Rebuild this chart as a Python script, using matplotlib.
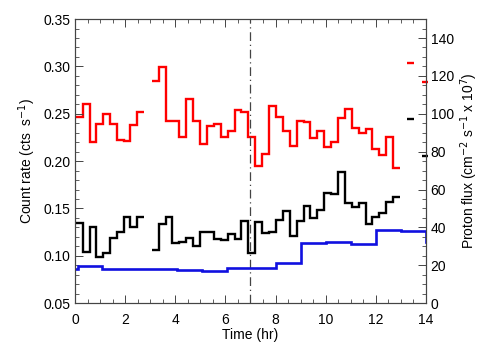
import numpy as np
import matplotlib
matplotlib.use('Agg')
import matplotlib.pyplot as plt
from matplotlib.ticker import MultipleLocator

plt.rcParams['font.family'] = ['Liberation Sans', 'DejaVu Sans']

# --- data ---
# two count-rate curves, each split in two segments with a gap near 3 hr
seg1_start, seg1_end = 0.04, 2.75
seg2_start, seg2_end = 3.06, 12.97

red_seg1 = [0.2468, 0.2602, 0.2204, 0.2388, 0.2497, 0.2388, 0.2222, 0.2215, 0.2377, 0.2521]
red_seg2 = [0.2848, 0.2990, 0.2426, 0.2426, 0.2257, 0.2655, 0.2426, 0.2180, 0.2373, 0.2388,
            0.2257, 0.2317, 0.2539, 0.2521, 0.2257, 0.1950, 0.2077, 0.2581, 0.2468, 0.2320,
            0.2162, 0.2426, 0.2409, 0.2240, 0.2320, 0.2151, 0.2204, 0.2451, 0.2549, 0.2352,
            0.2299, 0.2335, 0.2127, 0.2063, 0.2257, 0.1923]

black_seg1 = [0.1348, 0.1036, 0.1300, 0.0983, 0.1031, 0.1183, 0.1247, 0.1412, 0.1306, 0.1412]
black_seg2 = [0.1060, 0.1335, 0.1405, 0.1131, 0.1144, 0.1184, 0.1102, 0.1253, 0.1253, 0.1176,
              0.1166, 0.1226, 0.1179, 0.1366, 0.1025, 0.1359, 0.1240, 0.1255, 0.1377, 0.1477,
              0.1211, 0.1366, 0.1525, 0.1401, 0.1482, 0.1659, 0.1651, 0.1881, 0.1553, 0.1511,
              0.1560, 0.1331, 0.1412, 0.1448, 0.1564, 0.1623]

# proton flux, hourly bins
flux_start, flux_width = -0.892, 0.992
flux = [17.8, 19.4, 18.0, 18.0, 18.1, 17.3, 16.9, 18.3, 18.6, 21.0,
        31.9, 32.4, 31.2, 38.6, 38.0, 32.4]

# the short marks at the right edge: (t_start, t_end, rate)
red_marks = [(13.26, 13.54, 0.3032), (13.84, 14.10, 0.2831)]
black_marks = [(13.26, 13.54, 0.2444), (13.84, 14.10, 0.2056)]

t_event = 7.0

# --- plot ---
fig = plt.figure(figsize=(5.04, 3.6), dpi=100)
ax = fig.add_axes([0.149, 0.158, 0.696, 0.789])
ax2 = ax.twinx()

lw = 1.7
e1 = np.linspace(seg1_start, seg1_end, len(red_seg1) + 1)
e2 = np.linspace(seg2_start, seg2_end, len(red_seg2) + 1)
ax.stairs(red_seg1, e1, color='red', lw=lw, baseline=None)
ax.stairs(red_seg2, e2, color='red', lw=lw, baseline=None)
ax.stairs(black_seg1, e1, color='black', lw=lw, baseline=None)
ax.stairs(black_seg2, e2, color='black', lw=lw, baseline=None)

for t0, t1, v in red_marks:
    ax.plot([t0, t1], [v, v], color='red', lw=lw, clip_on=False, solid_capstyle='butt')
for t0, t1, v in black_marks:
    ax.plot([t0, t1], [v, v], color='black', lw=lw, clip_on=False, solid_capstyle='butt')

fe = flux_start + flux_width * np.arange(len(flux) + 1)
ax2.stairs(flux, fe, color='#1010e0', lw=lw + 0.2, baseline=None)

ax.axvline(t_event, color='#444444', lw=0.9, ls=(0, (7, 3, 1, 3)))

ax.set_xlim(0, 14)
ax.set_ylim(0.05, 0.35)
ax2.set_ylim(0, 150)

ax.xaxis.set_major_locator(MultipleLocator(2))
ax.xaxis.set_minor_locator(MultipleLocator(0.5))
ax.yaxis.set_major_locator(MultipleLocator(0.05))
ax.yaxis.set_minor_locator(MultipleLocator(0.01))
ax2.yaxis.set_major_locator(MultipleLocator(20))
ax2.yaxis.set_minor_locator(MultipleLocator(5))
ax.yaxis.set_major_formatter(plt.FormatStrFormatter('%.2f'))
ax2.set_yticks(np.arange(0, 141, 20))

ax.tick_params(axis='x', which='both', direction='in', top=True, labelsize=10, pad=7)
ax.tick_params(axis='y', which='both', direction='in', right=False, labelsize=10)
ax2.tick_params(axis='y', which='both', direction='in', labelsize=10)
for a in (ax, ax2):
    a.tick_params(which='major', length=6, width=0.7, color='#444444')
    a.tick_params(which='minor', length=3, width=0.6, color='#444444')
    for s in a.spines.values():
        s.set_linewidth(0.8)
        s.set_color('#444444')

ax.set_xlabel('Time (hr)', fontsize=10, labelpad=1)
ax.set_ylabel('Count rate (cts  s$^{-1}$)', fontsize=10, labelpad=4)
ax2.set_ylabel('Proton flux (cm$^{-2}$ s$^{-1}$ x 10$^{7}$)', fontsize=10, labelpad=3)

fig.savefig('out.png', dpi=100)
